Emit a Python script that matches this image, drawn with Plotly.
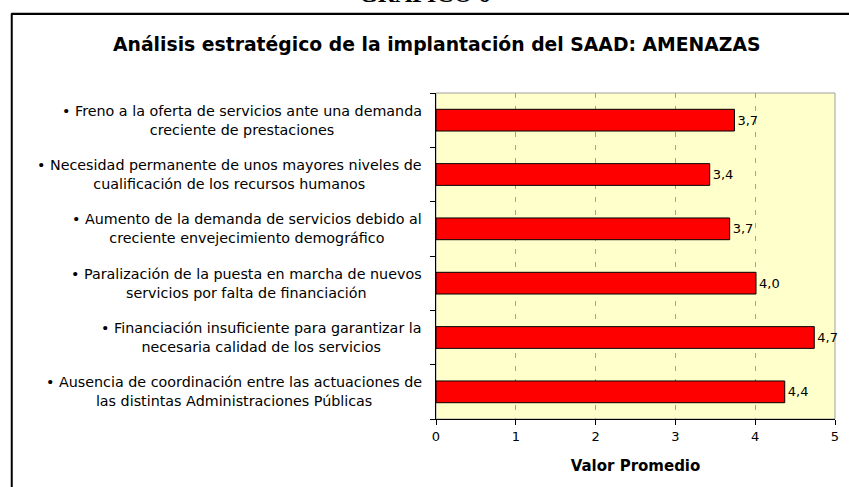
import plotly.graph_objects as go

categories = [
    "• Freno a la oferta de servicios ante una demanda<br>creciente de prestaciones",
    "• Necesidad permanente de unos mayores niveles de<br>cualificación de los recursos humanos",
    "• Aumento de la demanda de servicios debido al<br>creciente envejecimiento demográfico",
    "• Paralización de la puesta en marcha de nuevos<br>servicios por falta de financiación",
    "• Financiación insuficiente para garantizar la<br>necesaria calidad de los servicios",
    "• Ausencia de coordinación entre las actuaciones de<br>las distintas Administraciones Públicas",
]
values = [3.74, 3.43, 3.68, 4.01, 4.74, 4.37]
value_labels = ["3,7", "3,4", "3,7", "4,0", "4,7", "4,4"]
keys = ["c%d" % i for i in range(len(categories))]
x_ticks = [0, 1, 2, 3, 4, 5]

W, H = 849, 487
ML, MR, MT, MB = 436, 10, 93, 68
PW, PH = W - ML - MR, H - MT - MB
FONT = "DejaVu Sans, Arial"

def px_x(px):
    return (px - ML) / PW

def px_y(py):
    return (H - MB - py) / PH

fig = go.Figure()
fig.add_trace(go.Bar(
    x=values, y=keys, orientation="h", width=0.4,
    marker=dict(color="#FF0000", line=dict(color="#000000", width=1)),
    text=value_labels, textposition="outside", cliponaxis=False,
    textfont=dict(family=FONT, size=13, color="#000000"),
    hoverinfo="skip",
))

annotations = []
for k, c in zip(keys, categories):
    annotations.append(dict(
        x=px_x(424), xref="paper", y=k, yref="y", text=c, showarrow=False,
        xanchor="right", yanchor="middle", align="center",
        font=dict(family=FONT, size=14.3, color="#000000"),
    ))
annotations.append(dict(
    x=px_x(437), xref="paper", y=px_y(45), yref="paper",
    xanchor="center", yanchor="middle",
    text="<b>Análisis estratégico de la implantación del SAAD: AMENAZAS</b>",
    showarrow=False, font=dict(family=FONT, size=18.8, color="#000000"),
))
annotations.append(dict(
    x=px_x(424), xref="paper", y=px_y(-6), yref="paper",
    xanchor="center", yanchor="middle",
    text="<b>GRÁFICO 6</b>", showarrow=False,
    font=dict(family="Liberation Serif, Times New Roman", size=24, color="#000000"),
))

shapes = [
    dict(type="rect", xref="paper", yref="paper", x0=0, y0=0, x1=1, y1=1,
         line=dict(color="#A0A0A0", width=1), layer="below"),
    dict(type="line", xref="paper", yref="paper", x0=px_x(7), x1=px_x(860),
         y0=px_y(12.5), y1=px_y(12.5), line=dict(color="#C0C0C0", width=1)),
    dict(type="line", xref="paper", yref="paper", x0=px_x(7), x1=px_x(860),
         y0=px_y(14), y1=px_y(14), line=dict(color="#000000", width=2)),
    dict(type="line", xref="paper", yref="paper", x0=px_x(7.5), x1=px_x(7.5),
         y0=px_y(13.5), y1=px_y(500), line=dict(color="#000000", width=2)),
]

fig.update_layout(
    width=W, height=H,
    margin=dict(l=ML, r=MR, t=MT, b=MB),
    paper_bgcolor="#FFFFFF", plot_bgcolor="#FFFFCC",
    showlegend=False, bargap=0.6,
    annotations=annotations, shapes=shapes,
    font=dict(family=FONT, size=13, color="#000000"),
    xaxis=dict(
        range=[0, 5], tickvals=x_ticks, ticktext=[str(t) for t in x_ticks],
        showgrid=True, gridcolor="#A0A0A0", griddash="5px,8px", gridwidth=1,
        showline=True, linecolor="#000000", linewidth=1,
        ticks="outside", ticklen=5, tickcolor="#000000",
        zeroline=False, fixedrange=True,
        tickfont=dict(family=FONT, size=13),
        title=dict(text="<b>Valor Promedio</b>", standoff=17,
                   font=dict(family=FONT, size=15)),
    ),
    yaxis=dict(
        categoryorder="array", categoryarray=keys[::-1],
        showticklabels=False, showgrid=False,
        showline=True, linecolor="#000000", linewidth=1,
        ticks="outside", ticklen=5, tickcolor="#000000", tickson="boundaries",
        zeroline=False, fixedrange=True,
    ),
)

fig.write_html(
    "out.html",
    config={"displayModeBar": False},
    post_script="document.body.style.margin='0px';document.body.style.overflow='hidden';",
)
